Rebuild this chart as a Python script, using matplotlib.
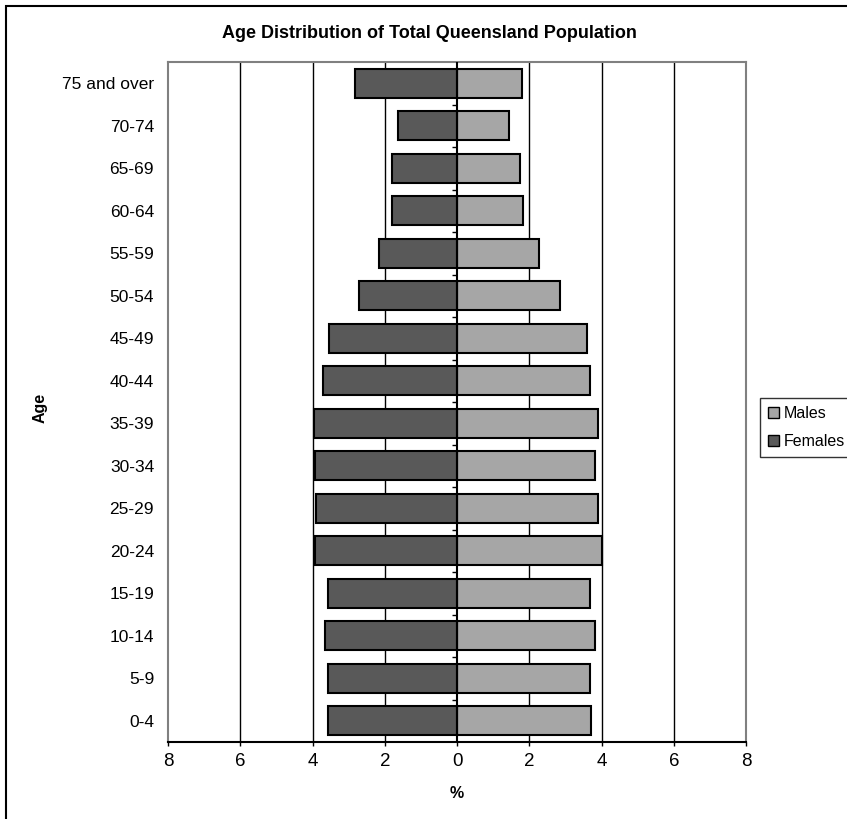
import matplotlib
matplotlib.use("Agg")
import matplotlib.pyplot as plt
from matplotlib.patches import Rectangle
import numpy as np

plt.rcParams['font.family'] = ['Liberation Sans', 'DejaVu Sans']

# age groups, bottom to top
ages = ['0-4', '5-9', '10-14', '15-19', '20-24', '25-29', '30-34', '35-39',
        '40-44', '45-49', '50-54', '55-59', '60-64', '65-69', '70-74', '75 and over']
# percent of total population
males = [3.72, 3.68, 3.82, 3.68, 4.00, 3.90, 3.82, 3.90,
         3.69, 3.60, 2.86, 2.26, 1.84, 1.75, 1.43, 1.80]
females = [3.56, 3.56, 3.66, 3.56, 3.92, 3.89, 3.92, 3.97,
           3.70, 3.53, 2.72, 2.16, 1.80, 1.80, 1.63, 2.82]

W, H = 847, 819
fig = plt.figure(figsize=(W / 100, H / 100), dpi=100)

# outer chart border (right/bottom edges fall off the picture)
fig.patches.append(Rectangle((6 / W, -0.02), 1.05, 1 - 6 / H + 0.02, transform=fig.transFigure,
                             fill=False, edgecolor='black', linewidth=1.5))

ax = fig.add_axes([168 / W, 1 - 742 / H, 578 / W, 680 / H])
y = np.arange(len(ages))

ax.barh(y, males, height=0.68, color='#a6a6a6', edgecolor='black', linewidth=1.5,
        label='Males', zorder=3)
ax.barh(y, [-v for v in females], height=0.68, color='#595959', edgecolor='black',
        linewidth=1.5, label='Females', zorder=3)

ax.set_xlim(-8, 8)
ax.set_ylim(-0.5, len(ages) - 0.5)

# vertical gridlines
for gx in [-6, -4, -2, 2, 4, 6]:
    ax.axvline(gx, color='black', linewidth=1, zorder=1)

# zero axis with category boundary ticks
ax.axvline(0, color='black', linewidth=1.5, zorder=4)
ax.hlines(y[:-1] + 0.5, -0.14, 0, color='black', linewidth=1, zorder=4)

ax.set_xticks(np.arange(-8, 9, 2))
ax.set_xticklabels([str(abs(int(v))) for v in np.arange(-8, 9, 2)], fontsize=13.5)
ax.tick_params(axis='x', direction='out', length=3, width=1, pad=5)

ax.set_yticks(y)
ax.set_yticklabels(ages, fontsize=12.5)
ax.tick_params(axis='y', length=0, pad=10)

for s in ['left', 'top', 'right']:
    ax.spines[s].set_color('#808080')
    ax.spines[s].set_linewidth(1.5)
ax.spines['bottom'].set_color('black')
ax.spines['bottom'].set_linewidth(1.5)

fig.text(429 / W, 1 - 34 / H, 'Age Distribution of Total Queensland Population',
         ha='center', va='center', fontsize=13, fontweight='bold')
fig.text(457 / W, 1 - 794 / H, '%', ha='center', va='center', fontsize=11.5, fontweight='bold')
fig.text(40 / W, 1 - 408 / H, 'Age', ha='center', va='center', rotation=90,
         fontsize=11.5, fontweight='bold')

leg = fig.legend(loc='upper left', bbox_to_anchor=(760 / W, 1 - 398 / H),
                 bbox_transform=fig.transFigure, frameon=True, fancybox=False,
                 edgecolor='black', fontsize=11.5, handlelength=0.7, handleheight=0.7,
                 handletextpad=0.3, borderpad=0.5, labelspacing=0.8, borderaxespad=0)
leg.get_frame().set_linewidth(1)
for h in leg.legend_handles:
    h.set_linewidth(1)

fig.savefig('out.png', dpi=100)
